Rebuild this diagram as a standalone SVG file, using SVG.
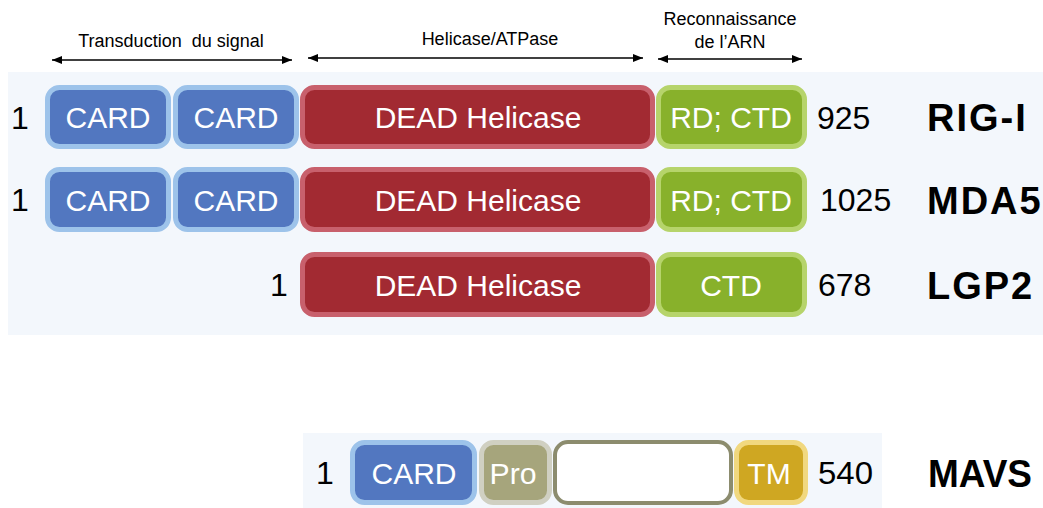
<svg xmlns="http://www.w3.org/2000/svg" width="1043" height="508" viewBox="0 0 1043 508">
<defs>
<marker id="ah" viewBox="0 0 10 8" refX="10" refY="4" markerWidth="10" markerHeight="8" markerUnits="userSpaceOnUse" orient="auto-start-reverse">
<path d="M0,0 L10,4 L0,8 z" fill="#000"/>
</marker>
<style>
text{font-family:"Liberation Sans",Arial,sans-serif}
.hdr{font-size:18px;fill:#000;text-anchor:middle}
.num{font-size:32px;fill:#000}
.name{font-size:38px;font-weight:bold;fill:#000;letter-spacing:2px}
.lbl{font-size:30px;fill:#fff;text-anchor:middle}
.card{fill:#5277c0;stroke:#9dc3ea;stroke-width:5}
.dead{fill:#a22a32;stroke:#c8606c;stroke-width:5}
.ctd{fill:#88b12b;stroke:#b6d46b;stroke-width:5}
.pro{fill:#a6a57c;stroke:#d0d0c2;stroke-width:5}
.blank{fill:#fff;stroke:#8c8c6e;stroke-width:4}
.tm{fill:#cfa722;stroke:#f1d87f;stroke-width:5}
.arr{stroke:#000;stroke-width:1.6;fill:none;marker-start:url(#ah);marker-end:url(#ah)}
</style>
</defs>
<rect width="1043" height="508" fill="#fff"/>
<rect x="8" y="72" width="1035" height="263" fill="#f3f7fc"/>
<rect x="303" y="433" width="579" height="75" fill="#f3f7fc"/>

<g id="headers">
<text class="hdr" x="171" y="47" style="white-space:pre">Transduction  du signal</text>
<text class="hdr" x="490" y="45">Helicase/ATPase</text>
<text class="hdr" x="730" y="25">Reconnaissance</text>
<text class="hdr" x="730" y="48">de l’ARN</text>
</g>

<g id="connectors">
<line class="arr" x1="52" y1="60" x2="292" y2="60"/>
<line class="arr" x1="308" y1="58" x2="643" y2="58"/>
<line class="arr" x1="658" y1="59" x2="802" y2="59"/>
</g>

<g id="rig-i">
<text class="num" x="20" y="128.5" text-anchor="middle">1</text>
<rect class="card" x="47.5" y="87.5" width="121" height="59" rx="12"/>
<text class="lbl" x="108" y="128">CARD</text>
<rect class="card" x="175.5" y="87.5" width="121" height="59" rx="12"/>
<text class="lbl" x="236" y="128">CARD</text>
<rect class="dead" x="302.5" y="87.5" width="350" height="59" rx="12"/>
<text class="lbl" x="478" y="128">DEAD Helicase</text>
<rect class="ctd" x="658.5" y="87.5" width="146" height="59" rx="12"/>
<text class="lbl" x="731" y="128">RD; CTD</text>
<text class="num" x="817" y="128.5">925</text>
<text class="name" x="927" y="131">RIG-I</text>
</g>

<g id="mda5">
<text class="num" x="20" y="211" text-anchor="middle">1</text>
<rect class="card" x="47.5" y="169.5" width="121" height="60" rx="12"/>
<text class="lbl" x="108" y="210.5">CARD</text>
<rect class="card" x="175.5" y="169.5" width="121" height="60" rx="12"/>
<text class="lbl" x="236" y="210.5">CARD</text>
<rect class="dead" x="302.5" y="169.5" width="350" height="60" rx="12"/>
<text class="lbl" x="478" y="210.5">DEAD Helicase</text>
<rect class="ctd" x="658.5" y="169.5" width="146" height="60" rx="12"/>
<text class="lbl" x="731" y="210.5">RD; CTD</text>
<text class="num" x="820" y="211">1025</text>
<text class="name" x="927" y="213.5">MDA5</text>
</g>

<g id="lgp2">
<text class="num" x="279" y="296" text-anchor="middle">1</text>
<rect class="dead" x="302.5" y="254.5" width="350" height="60" rx="12"/>
<text class="lbl" x="478" y="295.5">DEAD Helicase</text>
<rect class="ctd" x="658.5" y="254.5" width="146" height="60" rx="12"/>
<text class="lbl" x="731" y="295.5">CTD</text>
<text class="num" x="818" y="296">678</text>
<text class="name" x="927" y="298.5">LGP2</text>
</g>

<g id="mavs">
<text class="num" x="325" y="484" text-anchor="middle">1</text>
<rect class="card" x="352.5" y="442.5" width="122" height="60" rx="12"/>
<text class="lbl" x="414" y="483.5">CARD</text>
<rect class="pro" x="481.5" y="442.5" width="68" height="60" rx="12"/>
<text class="lbl" x="513" y="483.5" textLength="47" lengthAdjust="spacingAndGlyphs">Pro</text>
<rect class="blank" x="555" y="442" width="176" height="61" rx="13"/>
<rect class="tm" x="736.5" y="442.5" width="69" height="60" rx="12"/>
<text class="lbl" x="769" y="483.5">TM</text>
<text class="num" x="818" y="484" textLength="55" lengthAdjust="spacingAndGlyphs">540</text>
<text class="name" x="928" y="486.5" style="letter-spacing:0" textLength="104" lengthAdjust="spacingAndGlyphs">MAVS</text>
</g>
</svg>
